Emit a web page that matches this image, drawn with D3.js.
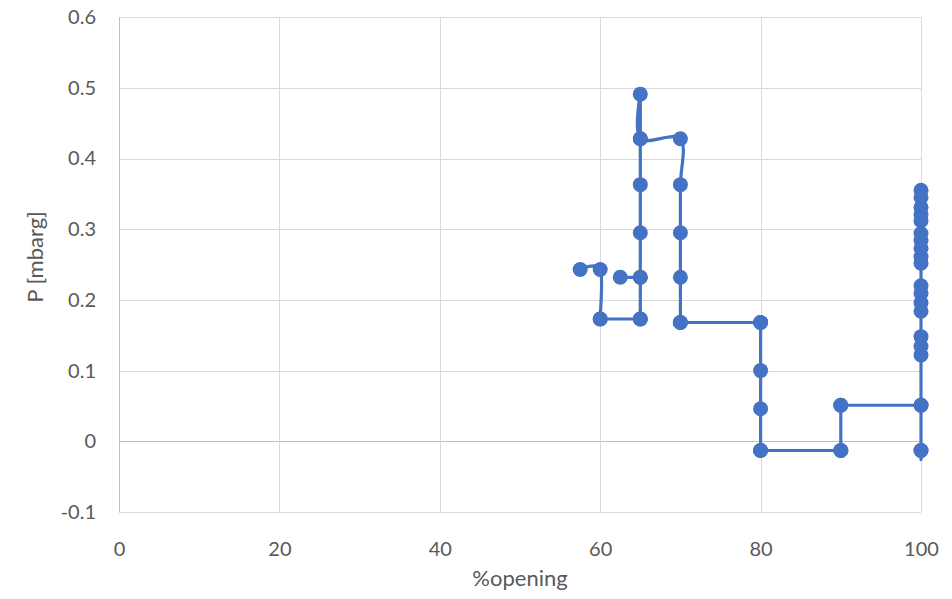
<!DOCTYPE html>
<html>
<head>
<meta charset="utf-8">
<script src="https://cdn.jsdelivr.net/npm/d3@7"></script>
<style>
  html, body { margin: 0; padding: 0; background: #ffffff; }
  svg { display: block; }
  text { font-family: Lato, "Open Sans", sans-serif; fill: #595959; }
</style>
</head>
<body>
<svg id="chart" width="952" height="599"></svg>
<script>
// Valve opening (%) and pressure (mbarg), logged in order (repeated readings kept)
const opening = [
  57.5, 60, 60, 60, 65, 65, 65, 65, 65, 65, 65, 65,
  70, 70, 70, 70, 70, 70, 80, 80, 80, 80, 80, 80, 90, 90, 90, 90,
  100, 100, 100, 100, 100, 100, 100, 100, 100, 100, 100, 100,
  100, 100, 100, 100, 100, 100, 100, 100, 100
];
const pressure = [
  0.243, 0.243, 0.173, 0.173, 0.173, 0.173, 0.232, 0.295, 0.363, 0.428, 0.491, 0.428,
  0.428, 0.363, 0.295, 0.232, 0.168, 0.168, 0.168, 0.168, 0.100, 0.046, -0.013, -0.013,
  -0.013, -0.013, 0.051, 0.051,
  0.051, 0.051, -0.013, -0.013, 0.122, 0.134, 0.148, 0.184, 0.196, 0.209, 0.220, 0.252,
  0.261, 0.273, 0.284, 0.294, 0.312, 0.321, 0.331, 0.345, 0.355
];
// A short extra run
const opening2 = [62.5, 65];
const pressure2 = [0.232, 0.232];

const xTicks = [0, 20, 40, 60, 80, 100];
const yTicks = [-0.1, 0, 0.1, 0.2, 0.3, 0.4, 0.5, 0.6];

const toPoints = (xs, ys) => xs.map((o, i) => ({ x: o, y: ys[i] }));
const runs = [
  toPoints(opening, pressure),
  toPoints(opening2, pressure2)
];

const svg = d3.select("#chart");
const plotLeft = 119, plotRight = 921, plotTop = 17.1, plotBottom = 512;

const x = d3.scaleLinear().domain([0, 100]).range([plotLeft, plotRight]);
const y = d3.scaleLinear().domain([-0.1, 0.6]).range([plotBottom, plotTop]);

// Grid
const grid = svg.append("g");
grid.selectAll("line.h").data(yTicks).join("line")
  .attr("x1", plotLeft).attr("x2", plotRight)
  .attr("y1", d => Math.round(y(d)) + 0.5).attr("y2", d => Math.round(y(d)) + 0.5)
  .attr("stroke", d => d === 0 ? "#bfbfbf" : "#d9d9d9").attr("stroke-width", 1);
grid.selectAll("line.v").data(xTicks).join("line")
  .attr("y1", plotTop).attr("y2", plotBottom)
  .attr("x1", d => Math.round(x(d)) + 0.5).attr("x2", d => Math.round(x(d)) + 0.5)
  .attr("stroke", d => d === 0 ? "#bfbfbf" : "#d9d9d9").attr("stroke-width", 1);

// Axes (labels only; lines come from the grid)
const yFmt = d => d === 0 ? "0" : d3.format(".1f")(d).replace("\u2212", "-");
const xAxis = svg.append("g").attr("transform", `translate(0,${plotBottom})`)
  .call(d3.axisBottom(x).tickValues(xTicks).tickSize(0).tickPadding(30).tickFormat(d3.format("d")));
const yAxis = svg.append("g").attr("transform", `translate(${plotLeft},0)`)
  .call(d3.axisLeft(y).tickValues(yTicks).tickSize(0).tickPadding(23).tickFormat(yFmt));
[xAxis, yAxis].forEach(a => {
  a.select(".domain").remove();
  a.selectAll("text").attr("font-size", 20).attr("fill", "#595959")
    .style("font-family", "Lato, 'Open Sans', sans-serif");
});

// Axis titles
svg.append("text").attr("x", (plotLeft + plotRight) / 2).attr("y", 586)
  .attr("text-anchor", "middle").attr("font-size", 22).text("%opening");
svg.append("text").attr("transform", `translate(43,257) rotate(-90)`)
  .attr("text-anchor", "middle").attr("font-size", 22).text("P [mbarg]");

// Smoothed lines with markers
const color = "#4472c4";
const line = d3.line().x(d => x(d.x)).y(d => y(d.y)).curve(d3.curveCardinal.tension(0));
runs.forEach(run => {
  svg.append("path").datum(run)
    .attr("d", line).attr("fill", "none").attr("stroke", color)
    .attr("stroke-width", 3.2).attr("stroke-linejoin", "round").attr("stroke-linecap", "round");
});
svg.append("g").selectAll("circle").data(runs.flat()).join("circle")
  .attr("cx", d => x(d.x)).attr("cy", d => y(d.y)).attr("r", 7.5)
  .attr("fill", color);
</script>
</body>
</html>
